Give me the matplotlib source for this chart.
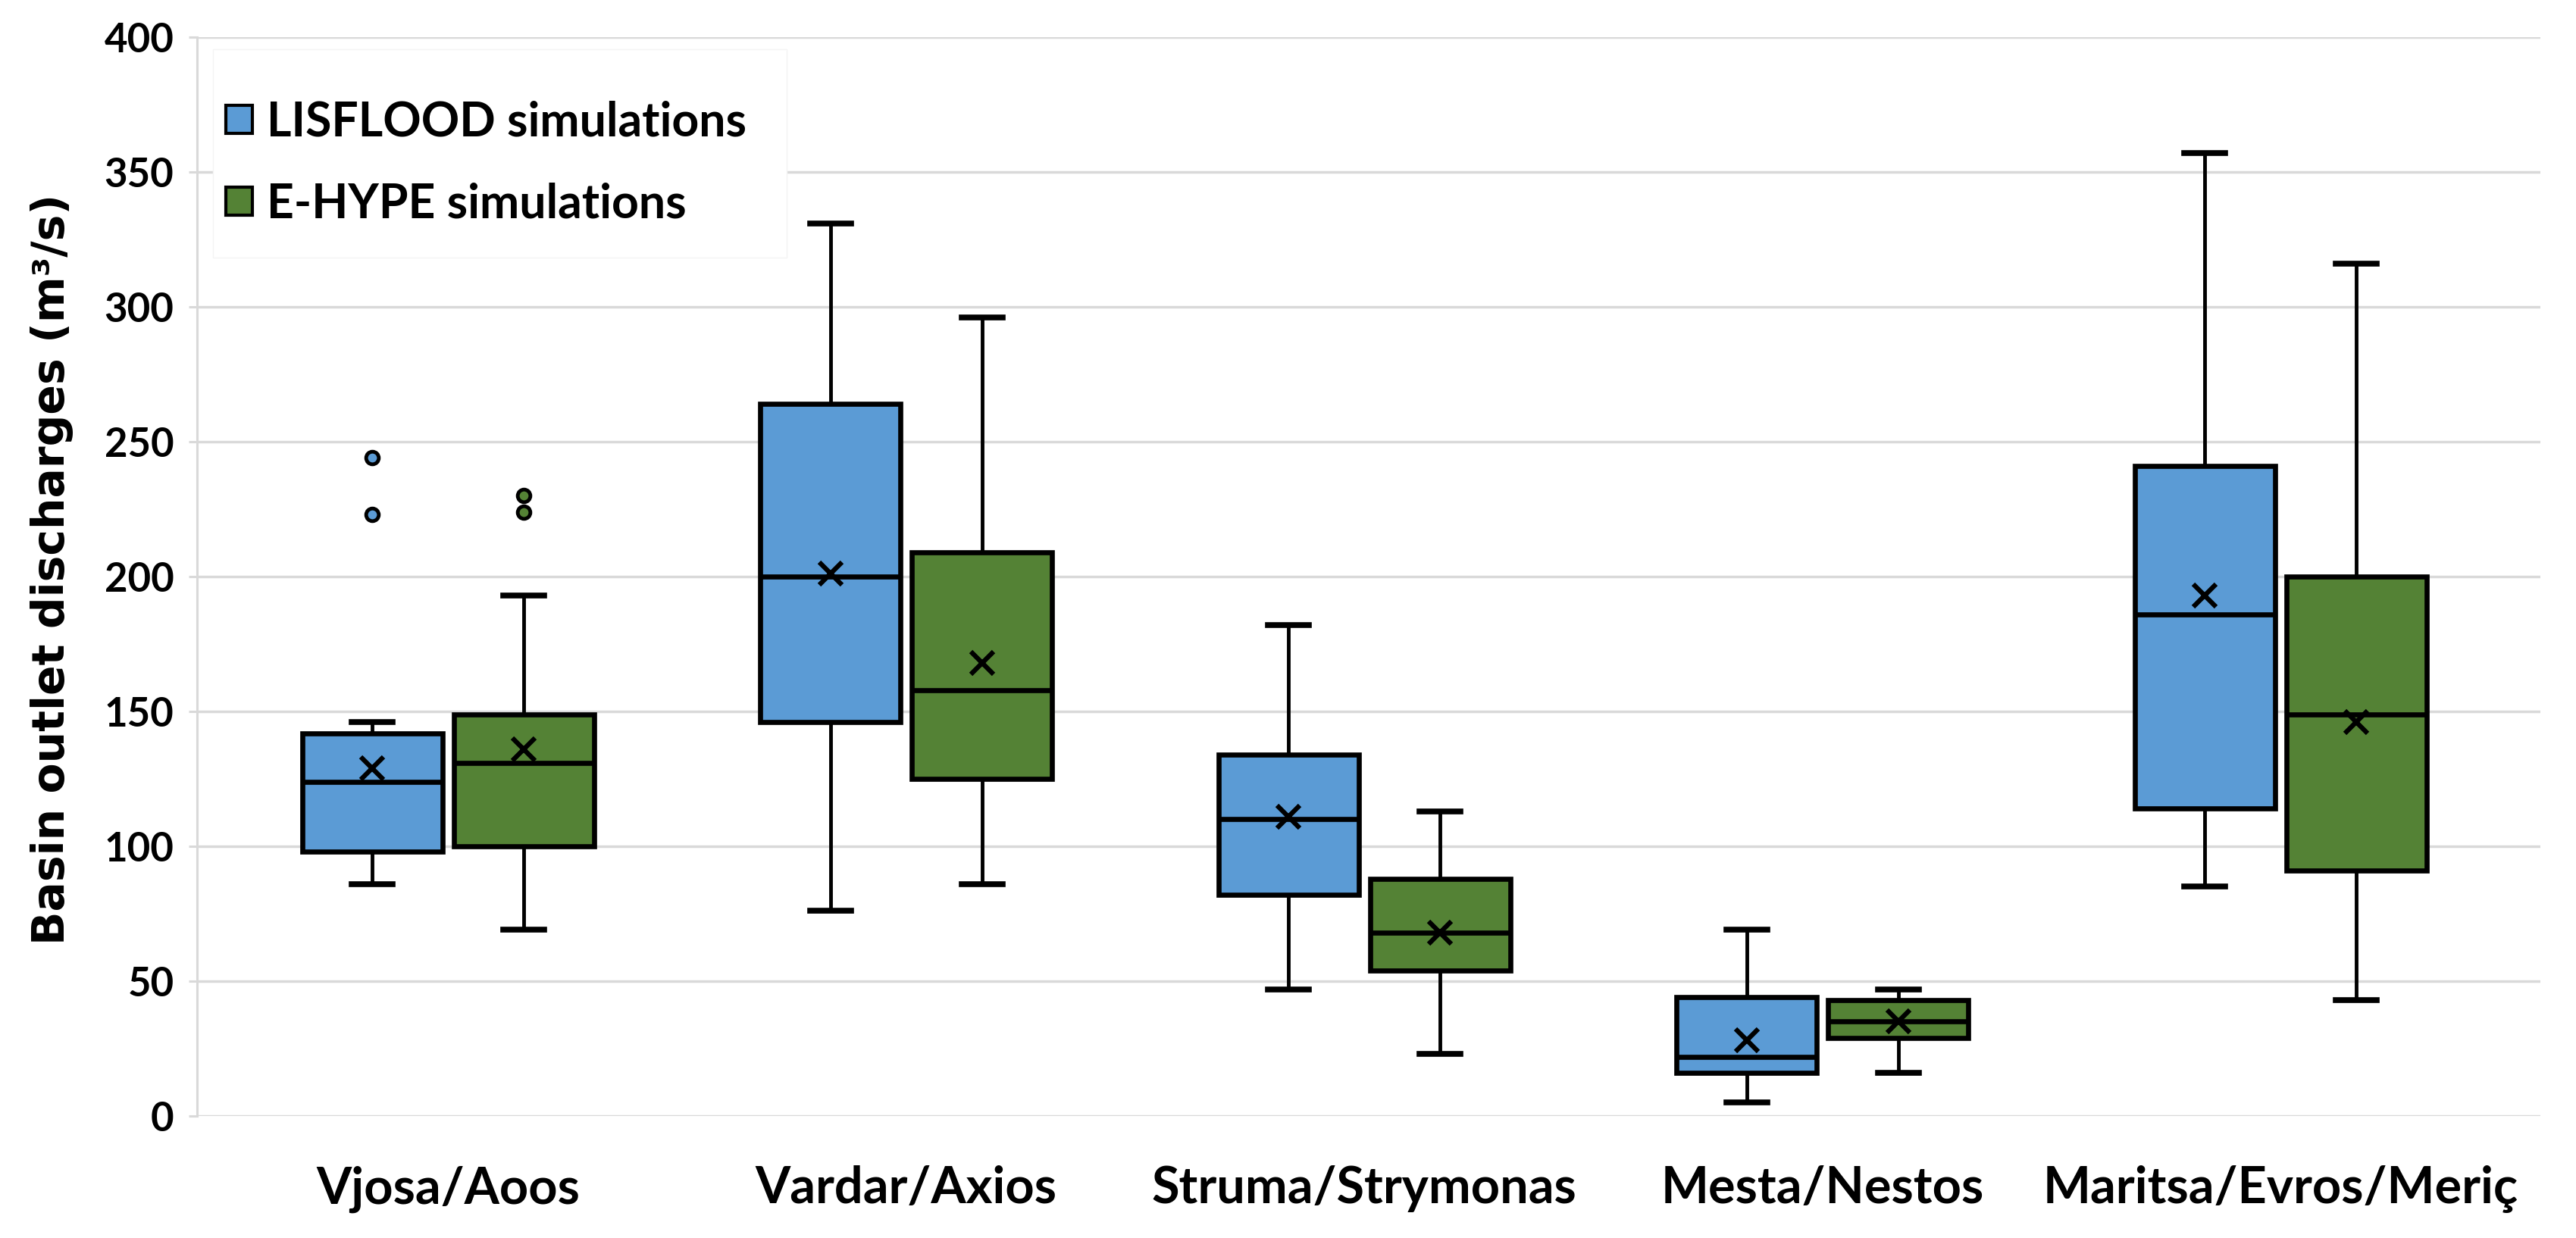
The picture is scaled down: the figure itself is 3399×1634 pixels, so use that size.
import numpy as np
import matplotlib.pyplot as plt
from matplotlib.patches import Rectangle, Patch

# basin outlet discharges (m3/s)
rivers = ['Vjosa/Aoos', 'Vardar/Axios', 'Struma/Strymonas', 'Mesta/Nestos', 'Maritsa/Evros/Meriç']

lis_low = [86, 76, 47, 5, 85]
lis_q1 = [98, 146, 82, 16, 114]
lis_med = [124, 200, 110, 22, 186]
lis_q3 = [142, 264, 134, 44, 241]
lis_high = [146, 331, 182, 69, 357]
lis_mean = [129, 201, 111, 28, 193]
lis_out = [[244, 223], [], [], [], []]

hype_low = [69, 86, 23, 16, 43]
hype_q1 = [100, 125, 54, 29, 91]
hype_med = [131, 158, 68, 35, 149]
hype_q3 = [149, 209, 88, 43, 200]
hype_high = [193, 296, 113, 47, 316]
hype_mean = [136, 168, 68, 35, 146]
hype_out = [[230, 224], [], [], [], []]

blu = '#5B9BD5'
verde = '#548235'
griglia = '#d9d9d9'


def statistiche(low, q1, med, q3, high, mean, out):
    st = []
    for i in range(len(low)):
        st.append(dict(whislo=low[i], q1=q1[i], med=med[i], q3=q3[i],
                       whishi=high[i], mean=mean[i], fliers=out[i]))
    return st


fig = plt.figure(figsize=(33.99, 16.34), dpi=100)
ax = fig.add_axes([0.0765, 0.0985, 0.9097, 0.8715])

x = np.arange(len(rivers))
off = 0.1655
larg = 0.306

for st, pos, col in [(statistiche(lis_low, lis_q1, lis_med, lis_q3, lis_high, lis_mean, lis_out), x - off, blu),
                     (statistiche(hype_low, hype_q1, hype_med, hype_q3, hype_high, hype_mean, hype_out), x + off, verde)]:
    ax.bxp(st, positions=pos, widths=larg, patch_artist=True, showmeans=True,
           capwidths=0.089, manage_ticks=False,
           boxprops=dict(facecolor=col, edgecolor='black', linewidth=4.8),
           medianprops=dict(color='black', linewidth=4.8),
           whiskerprops=dict(color='black', linewidth=3.5),
           capprops=dict(color='black', linewidth=5.5),
           meanprops=dict(marker='x', markeredgecolor='black', markersize=22, markeredgewidth=4.5),
           flierprops=dict(marker='o', markerfacecolor=col, markeredgecolor='black',
                           markersize=12, markeredgewidth=3.5),
           zorder=3)

ax.set_xlim(-0.548, 4.567)
ax.set_ylim(0, 400)
ax.set_yticks(np.arange(0, 401, 50))
ax.set_xticks(x)
ax.set_xticklabels(rivers, fontsize=48, fontweight='bold', family='Lato')
for lab in ax.get_yticklabels():
    lab.set_fontsize(38)
    lab.set_fontweight('bold')
    lab.set_family('Lato')

ax.grid(axis='y', color=griglia, linewidth=2.5)
ax.set_axisbelow(True)
for s in ['top', 'right', 'bottom']:
    ax.spines[s].set_visible(False)
ax.spines['left'].set_color(griglia)
ax.spines['left'].set_linewidth(2.2)
ax.tick_params(axis='y', color=griglia, length=8, width=2.2, pad=14)
ax.tick_params(axis='x', length=0, pad=47)

# label asse y
fig.text(0.0203, 0.54, 'Basin outlet discharges (m³/s)', rotation=90, ha='center', va='center',
         fontsize=42, fontweight='bold', family='DejaVu Sans')

# riquadro bianco della legenda
ax.add_patch(Rectangle((0.0068, 0.796), 0.2448, 0.193, transform=ax.transAxes,
                       facecolor='white', edgecolor='#f4f4f4', linewidth=1, zorder=2))
maniglie = [Patch(facecolor=blu, edgecolor='black', linewidth=3, label='LISFLOOD simulations'),
            Patch(facecolor=verde, edgecolor='black', linewidth=3, label='E-HYPE simulations')]
leg = ax.legend(handles=maniglie, loc='upper left', bbox_to_anchor=(0.0123, 0.9413),
                frameon=False, borderpad=0, borderaxespad=0, handlelength=0.56,
                handleheight=0.52, handletextpad=0.3, labelspacing=0.8,
                prop=dict(family='Lato', weight='bold', size=45))
leg.set_zorder(5)

fig.savefig('out.png', dpi=100)
